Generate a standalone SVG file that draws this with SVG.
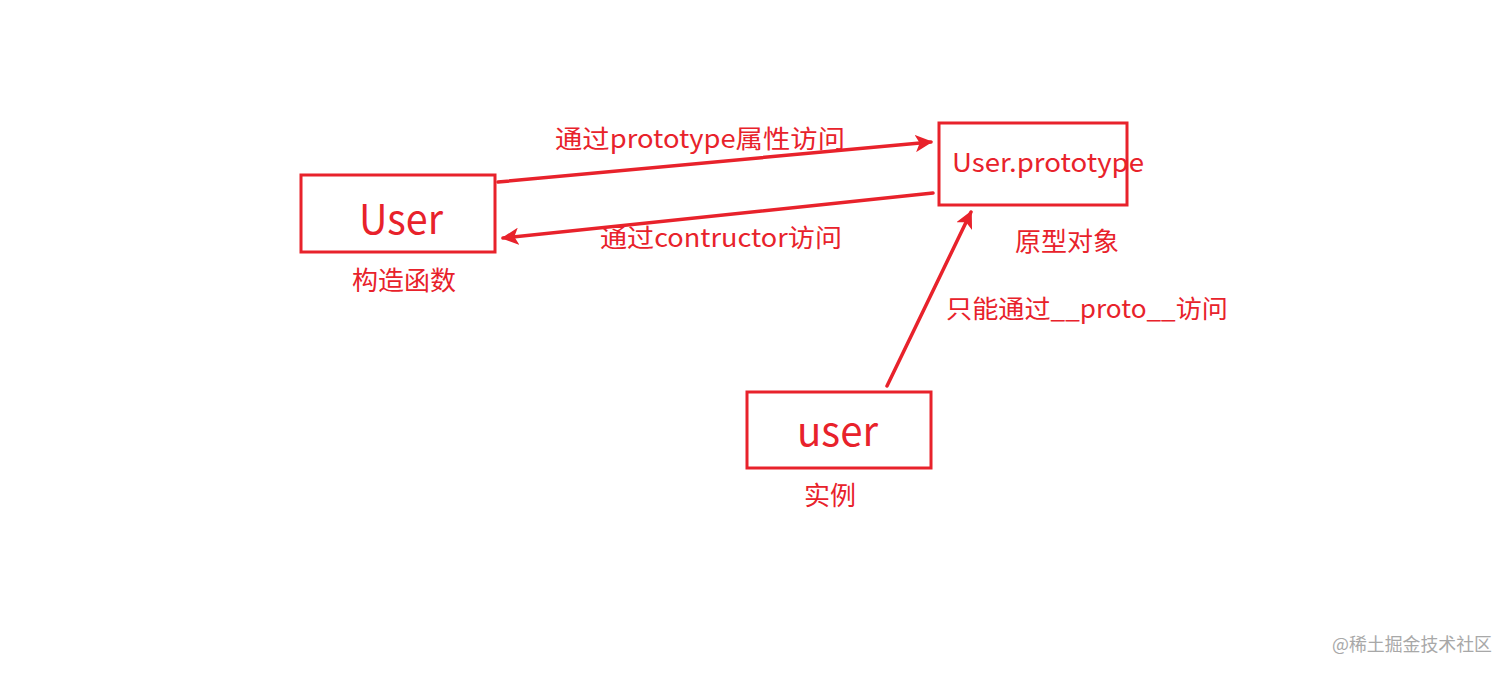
<svg xmlns="http://www.w3.org/2000/svg" width="1512" height="675" viewBox="0 0 1512 675">
<style>
.box{fill:none;stroke:#e8222b;stroke-width:3}
.ln{fill:none;stroke:#e8222b;stroke-width:3.5;stroke-linecap:round}
.t{font-family:"Noto Sans CJK SC","Noto Sans",sans-serif;fill:#e8222b}
.wm{font-family:"Noto Sans CJK SC","Noto Sans",sans-serif;fill:#a8a8a8;font-size:18px}
</style>
<defs>
<marker id="ah" viewBox="0 0 10 10" refX="9" refY="5" markerWidth="5" markerHeight="5" orient="auto" markerUnits="strokeWidth">
<path d="M0,0 L10,5 L0,10 L2.5,5 Z" fill="#e8222b"/>
</marker>
</defs>
<rect width="1512" height="675" fill="#ffffff"/>
<g id="connectors">
<line class="ln" x1="498" y1="182" x2="931" y2="142" marker-end="url(#ah)"/>
<line class="ln" x1="933" y1="193" x2="503" y2="238" marker-end="url(#ah)"/>
<line class="ln" x1="887" y1="386" x2="971" y2="212" marker-end="url(#ah)"/>
<text class="t" x="555" y="148" font-size="25" textLength="290" lengthAdjust="spacingAndGlyphs">通过prototype属性访问</text>
<text class="t" x="600" y="247" font-size="25" textLength="242" lengthAdjust="spacingAndGlyphs">通过contructor访问</text>
<text class="t" x="946" y="318" font-size="25" textLength="282" lengthAdjust="spacingAndGlyphs">只能通过__proto__访问</text>
</g>
<g id="node-User">
<rect class="box" x="301" y="175" width="194" height="77"/>
<text class="t" x="359" y="234" font-size="41" textLength="84" lengthAdjust="spacingAndGlyphs">User</text>
<text class="t" x="404" y="290" font-size="26" text-anchor="middle">构造函数</text>
</g>
<g id="node-prototype">
<rect class="box" x="939" y="123" width="188" height="82"/>
<text class="t" x="952" y="172" font-size="26" textLength="192" lengthAdjust="spacingAndGlyphs">User.prototype</text>
<text class="t" x="1067" y="251" font-size="26" text-anchor="middle">原型对象</text>
</g>
<g id="node-user">
<rect class="box" x="747" y="392" width="184" height="76"/>
<text class="t" x="797" y="446" font-size="41" textLength="81" lengthAdjust="spacingAndGlyphs">user</text>
<text class="t" x="830" y="505" font-size="26" text-anchor="middle">实例</text>
</g>
<text class="wm" x="1332" y="651" textLength="160" lengthAdjust="spacingAndGlyphs">@稀土掘金技术社区</text>
</svg>
